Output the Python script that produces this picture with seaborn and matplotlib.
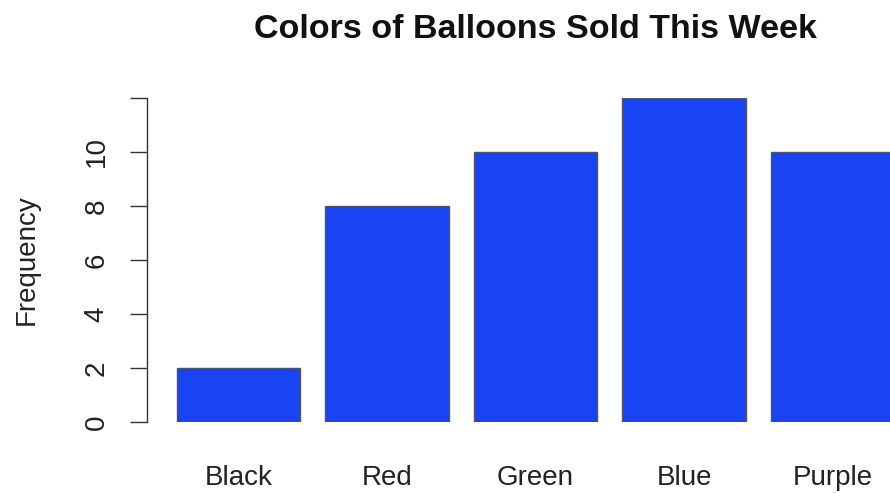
import matplotlib
matplotlib.use("Agg")
import matplotlib.pyplot as plt
import seaborn as sns
import pandas as pd

colors = ["Black", "Red", "Green", "Blue", "Purple"]
frequency = [2, 8, 10, 12, 10]
y_ticks = [0, 2, 4, 6, 8, 10, 12]
y_tick_labels = ["0", "2", "4", "6", "8", "10", ""]

df = pd.DataFrame({"color": colors, "freq": frequency})

sns.set_style("white")
plt.rcParams['font.family'] = ['Liberation Sans', 'DejaVu Sans']

fig = plt.figure(figsize=(8.9, 4.93), dpi=100)
ax = fig.add_axes([147 / 890, 71 / 493, 743 / 890, 324 / 493])

sns.barplot(data=df, x="color", y="freq", color="#1844f4", saturation=1,
            width=0.833, edgecolor="#555555", linewidth=1.0, ax=ax)

ax.set_xlim(-0.616, 4.387)
ax.set_ylim(0, 12)

for side in ["top", "right", "bottom"]:
    ax.spines[side].set_visible(False)
ax.spines["left"].set_bounds(0, 12)
ax.spines["left"].set_color("#333333")
ax.spines["left"].set_linewidth(1.0)

ax.set_yticks(y_ticks)
ax.set_yticklabels(y_tick_labels, rotation=90, va="center")
ax.tick_params(axis="y", left=True, length=12, width=1.0, color="#333333",
               pad=15, labelsize=20, labelcolor="#222222")
ax.tick_params(axis="x", bottom=False, length=0, pad=31, labelsize=20,
               labelcolor="#222222")

ax.set_xlabel("")
ax.set_ylabel("Frequency", fontsize=20, color="#222222")
ax.yaxis.set_label_coords(-0.144, 0.50)

fig.text(535 / 890, 1 - 29 / 493, "Colors of Balloons Sold This Week",
         ha="center", va="center", fontsize=24.5, fontweight="bold", color="#111111")

fig.savefig("out.png", dpi=100)
